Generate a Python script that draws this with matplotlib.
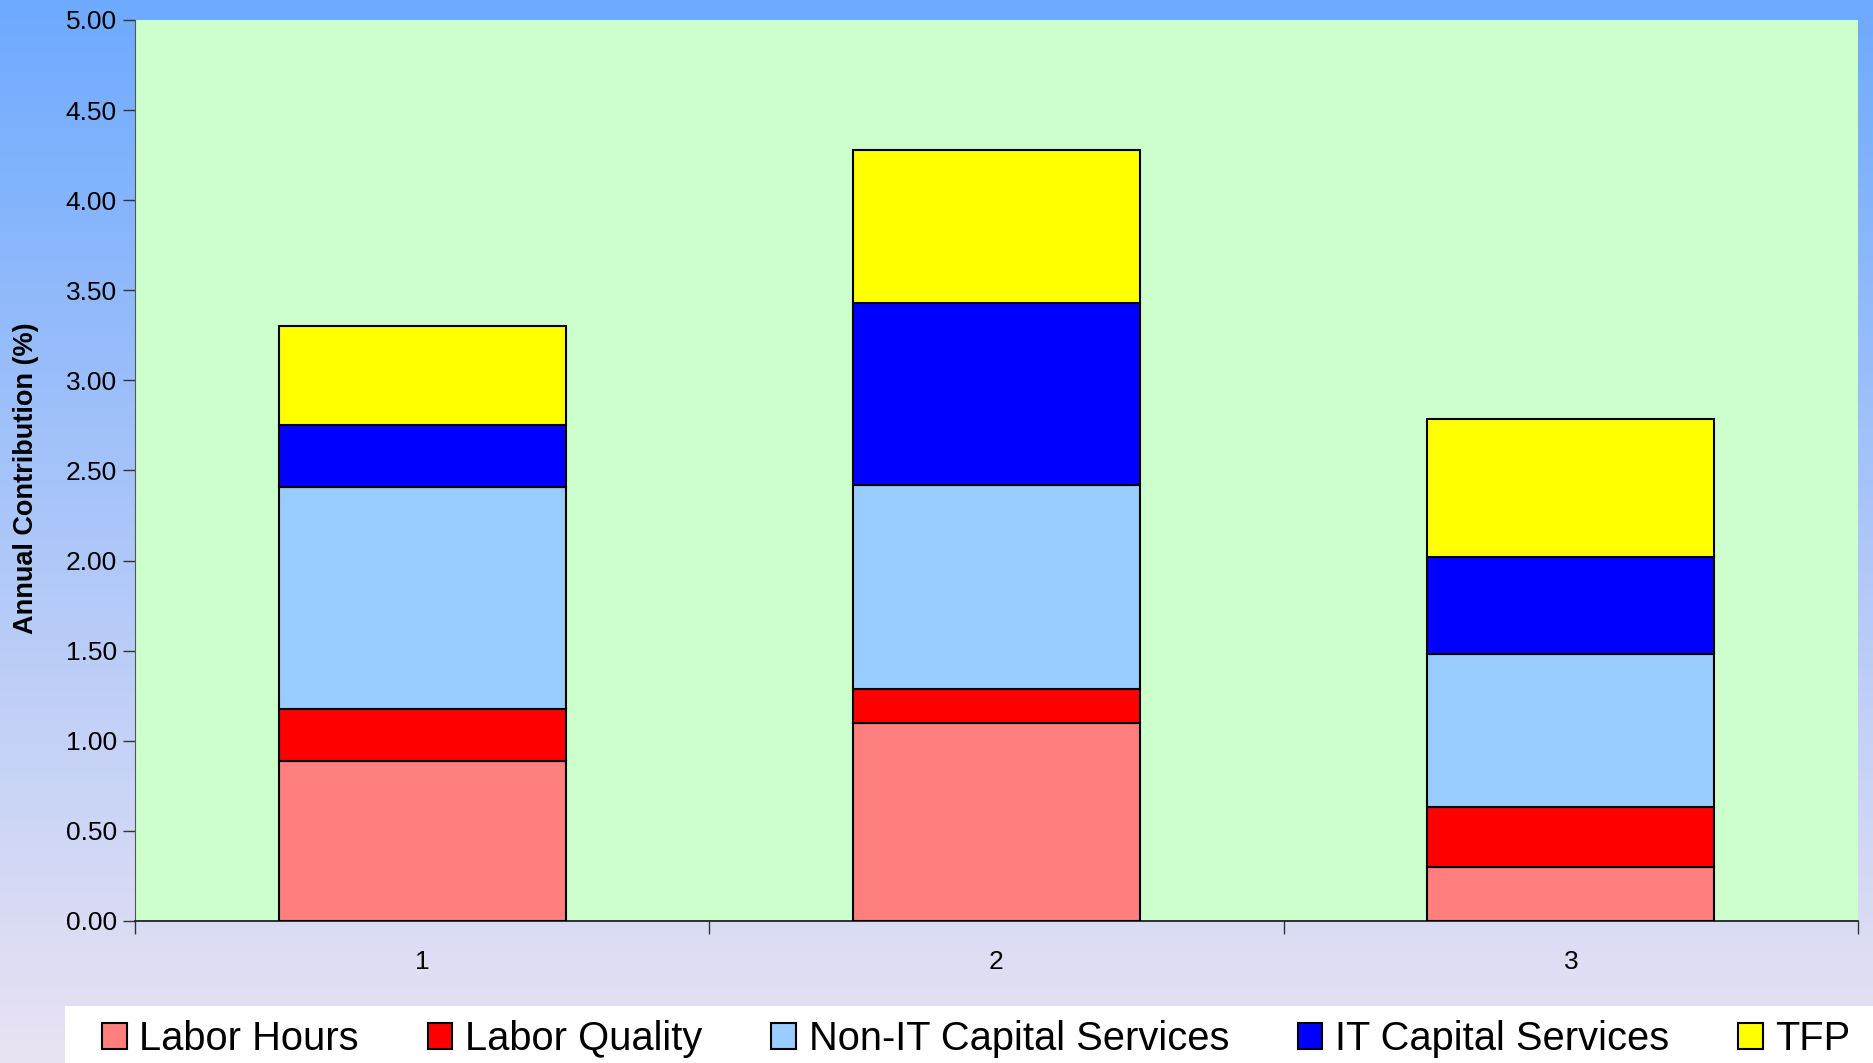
# stacked contributions to growth, three periods
import numpy as np
from matplotlib import pyplot as plt
from matplotlib.patches import Rectangle

plt.rcParams['font.family'] = ['Liberation Sans', 'DejaVu Sans']

# data
periods = ['1', '2', '3']
labor_hours = [0.89, 1.10, 0.30]
labor_quality = [0.285, 0.19, 0.335]
non_it_capital = [1.235, 1.13, 0.845]
it_capital = [0.34, 1.01, 0.54]
tfp = [0.55, 0.85, 0.765]

series = [labor_hours, labor_quality, non_it_capital, it_capital, tfp]
names = ['Labor Hours', 'Labor Quality', 'Non-IT Capital Services',
         'IT Capital Services', 'TFP']
colors = ['#FF7F7F', '#FF0000', '#99CCFF', '#0000FF', '#FFFF00']

W, H = 1874, 1063
fig = plt.figure(figsize=(W / 100, H / 100), dpi=100)

# gradient background
bg = fig.add_axes([0, 0, 1, 1], zorder=-2)
bg.set_axis_off()
top = np.array([110, 170, 255]) / 255
bot = np.array([234, 227, 243]) / 255
t = np.linspace(0, 1, 256)[:, None]
grad = top[None, :] * (1 - t) + bot[None, :] * t
bg.imshow(grad[:, None, :], aspect='auto', extent=[0, 1, 0, 1])
bg.set_xlim(0, 1)
bg.set_ylim(0, 1)
bg.add_patch(Rectangle((65 / W, 0), 1 - 65 / W, 57 / H, facecolor='white',
                       edgecolor='none'))

ax = fig.add_axes([135 / W, 1 - 921 / H, 1723 / W, 901 / H])
ax.set_facecolor('#CCFFCC')

x = np.arange(1, len(periods) + 1)
bottom = np.zeros(len(periods))
handles = []
for vals, name, c in zip(series, names, colors):
    b = ax.bar(x, vals, width=0.5, bottom=bottom, color=c, edgecolor='black',
               linewidth=1.5, label=name, zorder=3)
    handles.append(b)
    bottom += np.array(vals)

ax.set_xlim(0.5, 3.5)
ax.set_ylim(0, 5)
ax.set_yticks(np.arange(0, 5.01, 0.5))
ax.set_yticklabels([f'{v:.2f}' for v in np.arange(0, 5.01, 0.5)])
ax.set_xticks([0.5, 1.5, 2.5, 3.5])
ax.set_xticklabels([])
ax.set_xticks(x, minor=True)
ax.set_xticklabels(periods, minor=True)
ax.tick_params(axis='x', which='major', length=9, width=1, color='#333333')
ax.tick_params(axis='x', which='minor', length=0, pad=21, labelsize=19)
ax.tick_params(axis='y', length=9, width=1, color='#333333', labelsize=19, pad=4)

for s in ['top', 'right']:
    ax.spines[s].set_visible(False)
ax.spines['left'].set_color('#555555')
ax.spines['bottom'].set_color('#222222')
ax.spines['bottom'].set_linewidth(1.3)

ax.set_ylabel('Annual Contribution (%)', fontsize=19.5, fontweight='bold')
ax.yaxis.set_label_coords(-0.056, 0.492)

fig.legend(handles=handles, labels=names, loc='center left',
           bbox_to_anchor=(102 / W, 1 - 1039 / H), ncol=5, frameon=False,
           fontsize=28.7, handlelength=0.62, handleheight=0.62,
           handletextpad=0.32, columnspacing=1.72, borderpad=0,
           borderaxespad=0)

plt.savefig('out.png', dpi=100)
